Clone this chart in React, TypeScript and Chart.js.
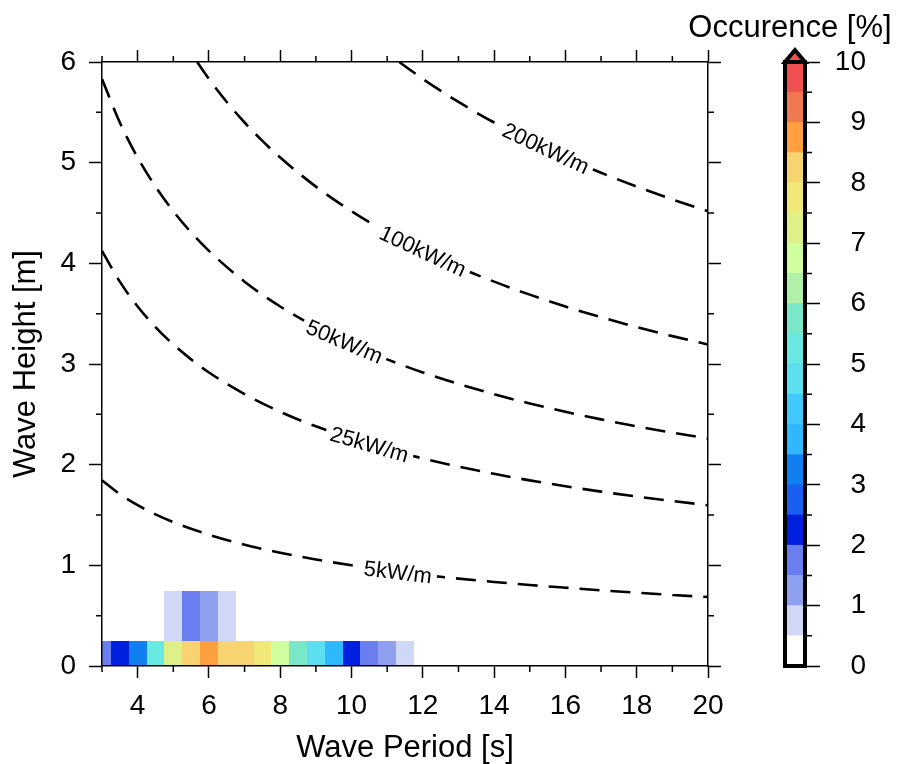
import React, { useEffect, useRef } from "react";
import { Chart, registerables } from "chart.js";
Chart.register(...registerables);

const FONT = "'Liberation Sans', Arial, Helvetica, sans-serif";

// ---- Wave power contour lines (period [s] vs height [m]) ----
const p5T = [3, 3.5, 4, 4.5, 5, 6, 7, 8, 9, 10, 11, 12, 13, 14, 15, 16, 17, 18, 19, 20];
const p5H = [1.844, 1.707, 1.597, 1.506, 1.429, 1.304, 1.205, 1.125, 1.058, 1.0, 0.95, 0.905, 0.868, 0.835, 0.805, 0.778, 0.752, 0.728, 0.706, 0.685];

const p25T = [3, 3.5, 4, 4.5, 5, 5.5, 6, 7, 8, 9, 10, 11, 12, 13, 14, 15, 16, 17, 18, 19, 20];
const p25H = [4.124, 3.818, 3.571, 3.367, 3.194, 3.046, 2.916, 2.7, 2.525, 2.381, 2.259, 2.154, 2.062, 1.981, 1.909, 1.844, 1.786, 1.732, 1.684, 1.639, 1.597];

const p50T = [3, 3.5, 4, 4.5, 5, 5.5, 6, 7, 8, 9, 10, 11, 12, 13, 14, 15, 16, 17, 18, 19, 20];
const p50H = [5.832, 5.399, 5.051, 4.762, 4.518, 4.307, 4.124, 3.818, 3.571, 3.367, 3.194, 3.046, 2.916, 2.802, 2.7, 2.608, 2.525, 2.45, 2.381, 2.318, 2.259];

const p100T = [5.67, 6, 6.5, 7, 7.5, 8, 9, 10, 11, 12, 13, 14, 15, 16, 17, 18, 19, 20];
const p100H = [6.0, 5.832, 5.603, 5.399, 5.216, 5.051, 4.762, 4.518, 4.307, 4.124, 3.962, 3.818, 3.689, 3.571, 3.465, 3.367, 3.277, 3.194];

const p200T = [11.34, 12, 13, 14, 15, 16, 17, 18, 19, 20];
const p200H = [6.0, 5.832, 5.603, 5.399, 5.216, 5.051, 4.9, 4.762, 4.635, 4.518];

const contourLabels = ["5kW/m", "25kW/m", "50kW/m", "100kW/m", "200kW/m"];
const labelT = [11.3, 10.5, 9.8, 12.0, 15.45];
const labelH = [0.93, 2.2, 3.22, 4.12, 5.14];
const labelAngle = [7, 16, 23, 25, 25];

// ---- Occurrence cells (centre period, centre height, percent) ----
const cellT = [3, 3.5, 4, 4.5, 5, 5.5, 6, 6.5, 7, 7.5, 8, 8.5, 9, 9.5, 10, 10.5, 11, 11.5, 5, 5.5, 6, 6.5];
const cellH = [0, 0, 0, 0, 0, 0, 0, 0, 0, 0, 0, 0, 0, 0, 0, 0, 0, 0, 0.5, 0.5, 0.5, 0.5];
const cellPct = [1.7, 2.2, 3.2, 5.2, 7.2, 8.2, 8.7, 8.2, 8.1, 7.7, 6.7, 5.7, 4.7, 3.7, 2.2, 1.7, 1.2, 0.7, 0.7, 1.7, 1.2, 0.7];
const cellSize = 0.5;

// ---- Colour scale (0..10 %, 0.5 steps) ----
const cbStep = 0.5;
const cbColors = [
  "#ffffff", "#d0d8f8", "#90a0f0", "#6a7ef0", "#0020e0",
  "#1a60f0", "#1080f0", "#30b8ff", "#40c8ff", "#5ce0f0",
  "#68e8e0", "#7ae8c8", "#b0f0a8", "#d0ffa0", "#e0f088",
  "#f0e878", "#f8d470", "#ffa040", "#f07850", "#f05050",
];
const cbOverColor = "#f05050";

// ---- Minor tick positions ----
const xMinor = [3, 5, 7, 9, 11, 13, 15, 17, 19];
const yMinor = [0.5, 1.5, 2.5, 3.5, 4.5, 5.5];
const cbMinor = [0.5, 1.5, 2.5, 3.5, 4.5, 5.5, 6.5, 7.5, 8.5, 9.5];

const heatmapPlugin = {
  id: "heatmap",
  beforeDatasetsDraw(chart: any) {
    const { ctx, chartArea: a, scales } = chart;
    const x = scales.x, y = scales.y;
    ctx.save();
    ctx.beginPath();
    ctx.rect(a.left, a.top, a.right - a.left, a.bottom - a.top);
    ctx.clip();
    cellT.forEach((t, i) => {
      const v = cellPct[i];
      const idx = Math.min(cbColors.length - 1, Math.floor(v / cbStep));
      const x0 = Math.round(x.getPixelForValue(t - cellSize / 2));
      const x1 = Math.round(x.getPixelForValue(t + cellSize / 2));
      const y0 = Math.round(y.getPixelForValue(cellH[i] + cellSize / 2));
      const y1 = Math.round(y.getPixelForValue(cellH[i] - cellSize / 2));
      ctx.fillStyle = cbColors[idx];
      ctx.fillRect(x0, y0, x1 - x0, y1 - y0);
    });
    ctx.restore();
  },
};

const contourLabelPlugin = {
  id: "contourLabels",
  afterDatasetsDraw(chart: any) {
    const { ctx, scales } = chart;
    ctx.save();
    ctx.font = `22px ${FONT}`;
    ctx.textAlign = "center";
    ctx.textBaseline = "middle";
    contourLabels.forEach((txt, i) => {
      const px = scales.x.getPixelForValue(labelT[i]);
      const py = scales.y.getPixelForValue(labelH[i]);
      ctx.save();
      ctx.translate(px, py);
      ctx.rotate((labelAngle[i] * Math.PI) / 180);
      const w = ctx.measureText(txt).width;
      ctx.fillStyle = "#ffffff";
      ctx.fillRect(-w / 2 - 5, -12, w + 10, 24);
      ctx.fillStyle = "#000000";
      ctx.fillText(txt, 0, 1);
      ctx.restore();
    });
    ctx.restore();
  },
};

const minorTickPlugin = {
  id: "minorTicks",
  afterDraw(chart: any) {
    const { ctx, chartArea: a, scales } = chart;
    ctx.save();
    ctx.strokeStyle = "#000";
    ctx.lineWidth = 1.5;
    ctx.beginPath();
    xMinor.forEach((v) => {
      const px = scales.x.getPixelForValue(v);
      ctx.moveTo(px, a.bottom);
      ctx.lineTo(px, a.bottom + 6);
      ctx.moveTo(px, a.top);
      ctx.lineTo(px, a.top - 6);
    });
    yMinor.forEach((v) => {
      const py = scales.y.getPixelForValue(v);
      ctx.moveTo(a.left, py);
      ctx.lineTo(a.left - 6, py);
      ctx.moveTo(a.right, py);
      ctx.lineTo(a.right + 6, py);
    });
    ctx.stroke();
    ctx.restore();
  },
};

const colorbarPlugin = {
  id: "colorbarDecor",
  afterDraw(chart: any) {
    const { ctx, chartArea: a, scales } = chart;
    ctx.save();
    ctx.strokeStyle = "#000";
    ctx.lineWidth = 1.5;
    ctx.beginPath();
    cbMinor.forEach((v) => {
      const py = scales.y.getPixelForValue(v);
      ctx.moveTo(a.right, py);
      ctx.lineTo(a.right + 7, py);
    });
    ctx.stroke();
    // over-range triangle
    const cx = (a.left + a.right) / 2;
    ctx.lineWidth = 4;
    ctx.lineJoin = "miter";
    ctx.beginPath();
    ctx.moveTo(a.left, a.top);
    ctx.lineTo(cx, a.top - 12);
    ctx.lineTo(a.right, a.top);
    ctx.closePath();
    ctx.fillStyle = cbOverColor;
    ctx.fill();
    ctx.stroke();
    ctx.strokeRect(a.left, a.top, a.right - a.left, a.bottom - a.top);
    // title
    ctx.fillStyle = "#000";
    ctx.font = `31px ${FONT}`;
    ctx.textAlign = "center";
    ctx.textBaseline = "alphabetic";
    ctx.fillText("Occurence [%]", cx - 5, 37);
    ctx.restore();
  },
};

const tickFont = { family: FONT, size: 28 };
const titleFont = { family: FONT, size: 31, lineHeight: 1 };

export default function App() {
  const mainRef = useRef<HTMLCanvasElement>(null);
  const cbRef = useRef<HTMLCanvasElement>(null);

  useEffect(() => {
    const lineSet = (T: number[], H: number[]) => ({
      data: T.map((t, i) => ({ x: t, y: H[i] })),
      showLine: true,
      borderColor: "#000",
      borderWidth: 2.6,
      borderDash: [20, 11],
      pointRadius: 0,
      fill: false,
      cubicInterpolationMode: "monotone" as const,
      clip: 0,
    });

    const main = new Chart(mainRef.current!, {
      type: "scatter",
      data: {
        datasets: [
          lineSet(p5T, p5H),
          lineSet(p25T, p25H),
          lineSet(p50T, p50H),
          lineSet(p100T, p100H),
          lineSet(p200T, p200H),
        ] as any,
      },
      options: {
        responsive: false,
        animation: false,
        events: [],
        layout: { padding: 0, autoPadding: false },
        plugins: { legend: { display: false }, tooltip: { enabled: false } },
        scales: {
          x: {
            type: "linear",
            position: "bottom",
            min: 3,
            max: 20,
            ticks: { stepSize: 2, includeBounds: false, font: tickFont, color: "#000", padding: 11, maxRotation: 0, autoSkip: false },
            grid: { drawOnChartArea: false, tickLength: 12, tickColor: "#000", tickWidth: 1.5 },
            border: { display: true, color: "#000", width: 1.5, z: 1 },
            title: { display: true, text: "Wave Period [s]", font: titleFont, color: "#000", padding: { top: 0, bottom: 0 } },
            afterFit: (s: any) => { s.height = 98; },
          },
          x2: {
            type: "linear",
            position: "top",
            min: 3,
            max: 20,
            ticks: { stepSize: 2, includeBounds: false, display: false },
            grid: { drawOnChartArea: false, tickLength: 12, tickColor: "#000", tickWidth: 1.5 },
            border: { display: true, color: "#000", width: 1.5, z: 1 },
            afterFit: (s: any) => { s.height = 62; },
          },
          y: {
            type: "linear",
            position: "left",
            min: 0,
            max: 6,
            ticks: { stepSize: 1, font: tickFont, color: "#000", padding: 13 },
            grid: { drawOnChartArea: false, tickLength: 13, tickColor: "#000", tickWidth: 1.5 },
            border: { display: true, color: "#000", width: 1.5, z: 1 },
            title: { display: true, text: "Wave Height [m]", font: titleFont, color: "#000", padding: { top: 11, bottom: 0 } },
            afterFit: (s: any) => { s.width = 102; },
          },
          y2: {
            type: "linear",
            position: "right",
            min: 0,
            max: 6,
            ticks: { stepSize: 1, display: false },
            grid: { drawOnChartArea: false, tickLength: 13, tickColor: "#000", tickWidth: 1.5 },
            border: { display: true, color: "#000", width: 1.5, z: 1 },
            afterFit: (s: any) => { s.width = 52; },
          },
        },
      } as any,
      plugins: [heatmapPlugin, contourLabelPlugin, minorTickPlugin],
    });

    const cb = new Chart(cbRef.current!, {
      type: "bar",
      data: {
        labels: [""],
        datasets: cbColors.map((c) => ({
          data: [cbStep],
          backgroundColor: c,
          borderWidth: 0,
          barPercentage: 1,
          categoryPercentage: 1,
          stack: "cb",
        })),
      },
      options: {
        responsive: false,
        animation: false,
        events: [],
        layout: { padding: { left: 105, top: 62, bottom: 98, right: 34 }, autoPadding: false },
        plugins: { legend: { display: false }, tooltip: { enabled: false } },
        scales: {
          x: { stacked: true, display: false },
          y: {
            stacked: true,
            position: "right",
            min: 0,
            max: 10,
            ticks: { stepSize: 1, font: tickFont, color: "#000", padding: 14, crossAlign: "far" },
            grid: { drawOnChartArea: false, tickLength: 15, tickColor: "#000", tickWidth: 1.5 },
            border: { display: false },
            afterFit: (s: any) => { s.width = 61; },
          },
        },
      } as any,
      plugins: [colorbarPlugin],
    });

    return () => {
      main.destroy();
      cb.destroy();
    };
  }, []);

  return (
    <div style={{ position: "absolute", left: 0, top: 0, width: 900, height: 764, background: "#fff", overflow: "hidden" }}>
      <canvas ref={mainRef} width={760} height={764} style={{ position: "absolute", left: 0, top: 0, width: 760, height: 764 }} />
      <canvas ref={cbRef} width={220} height={764} style={{ position: "absolute", left: 680, top: 0, width: 220, height: 764 }} />
    </div>
  );
}
